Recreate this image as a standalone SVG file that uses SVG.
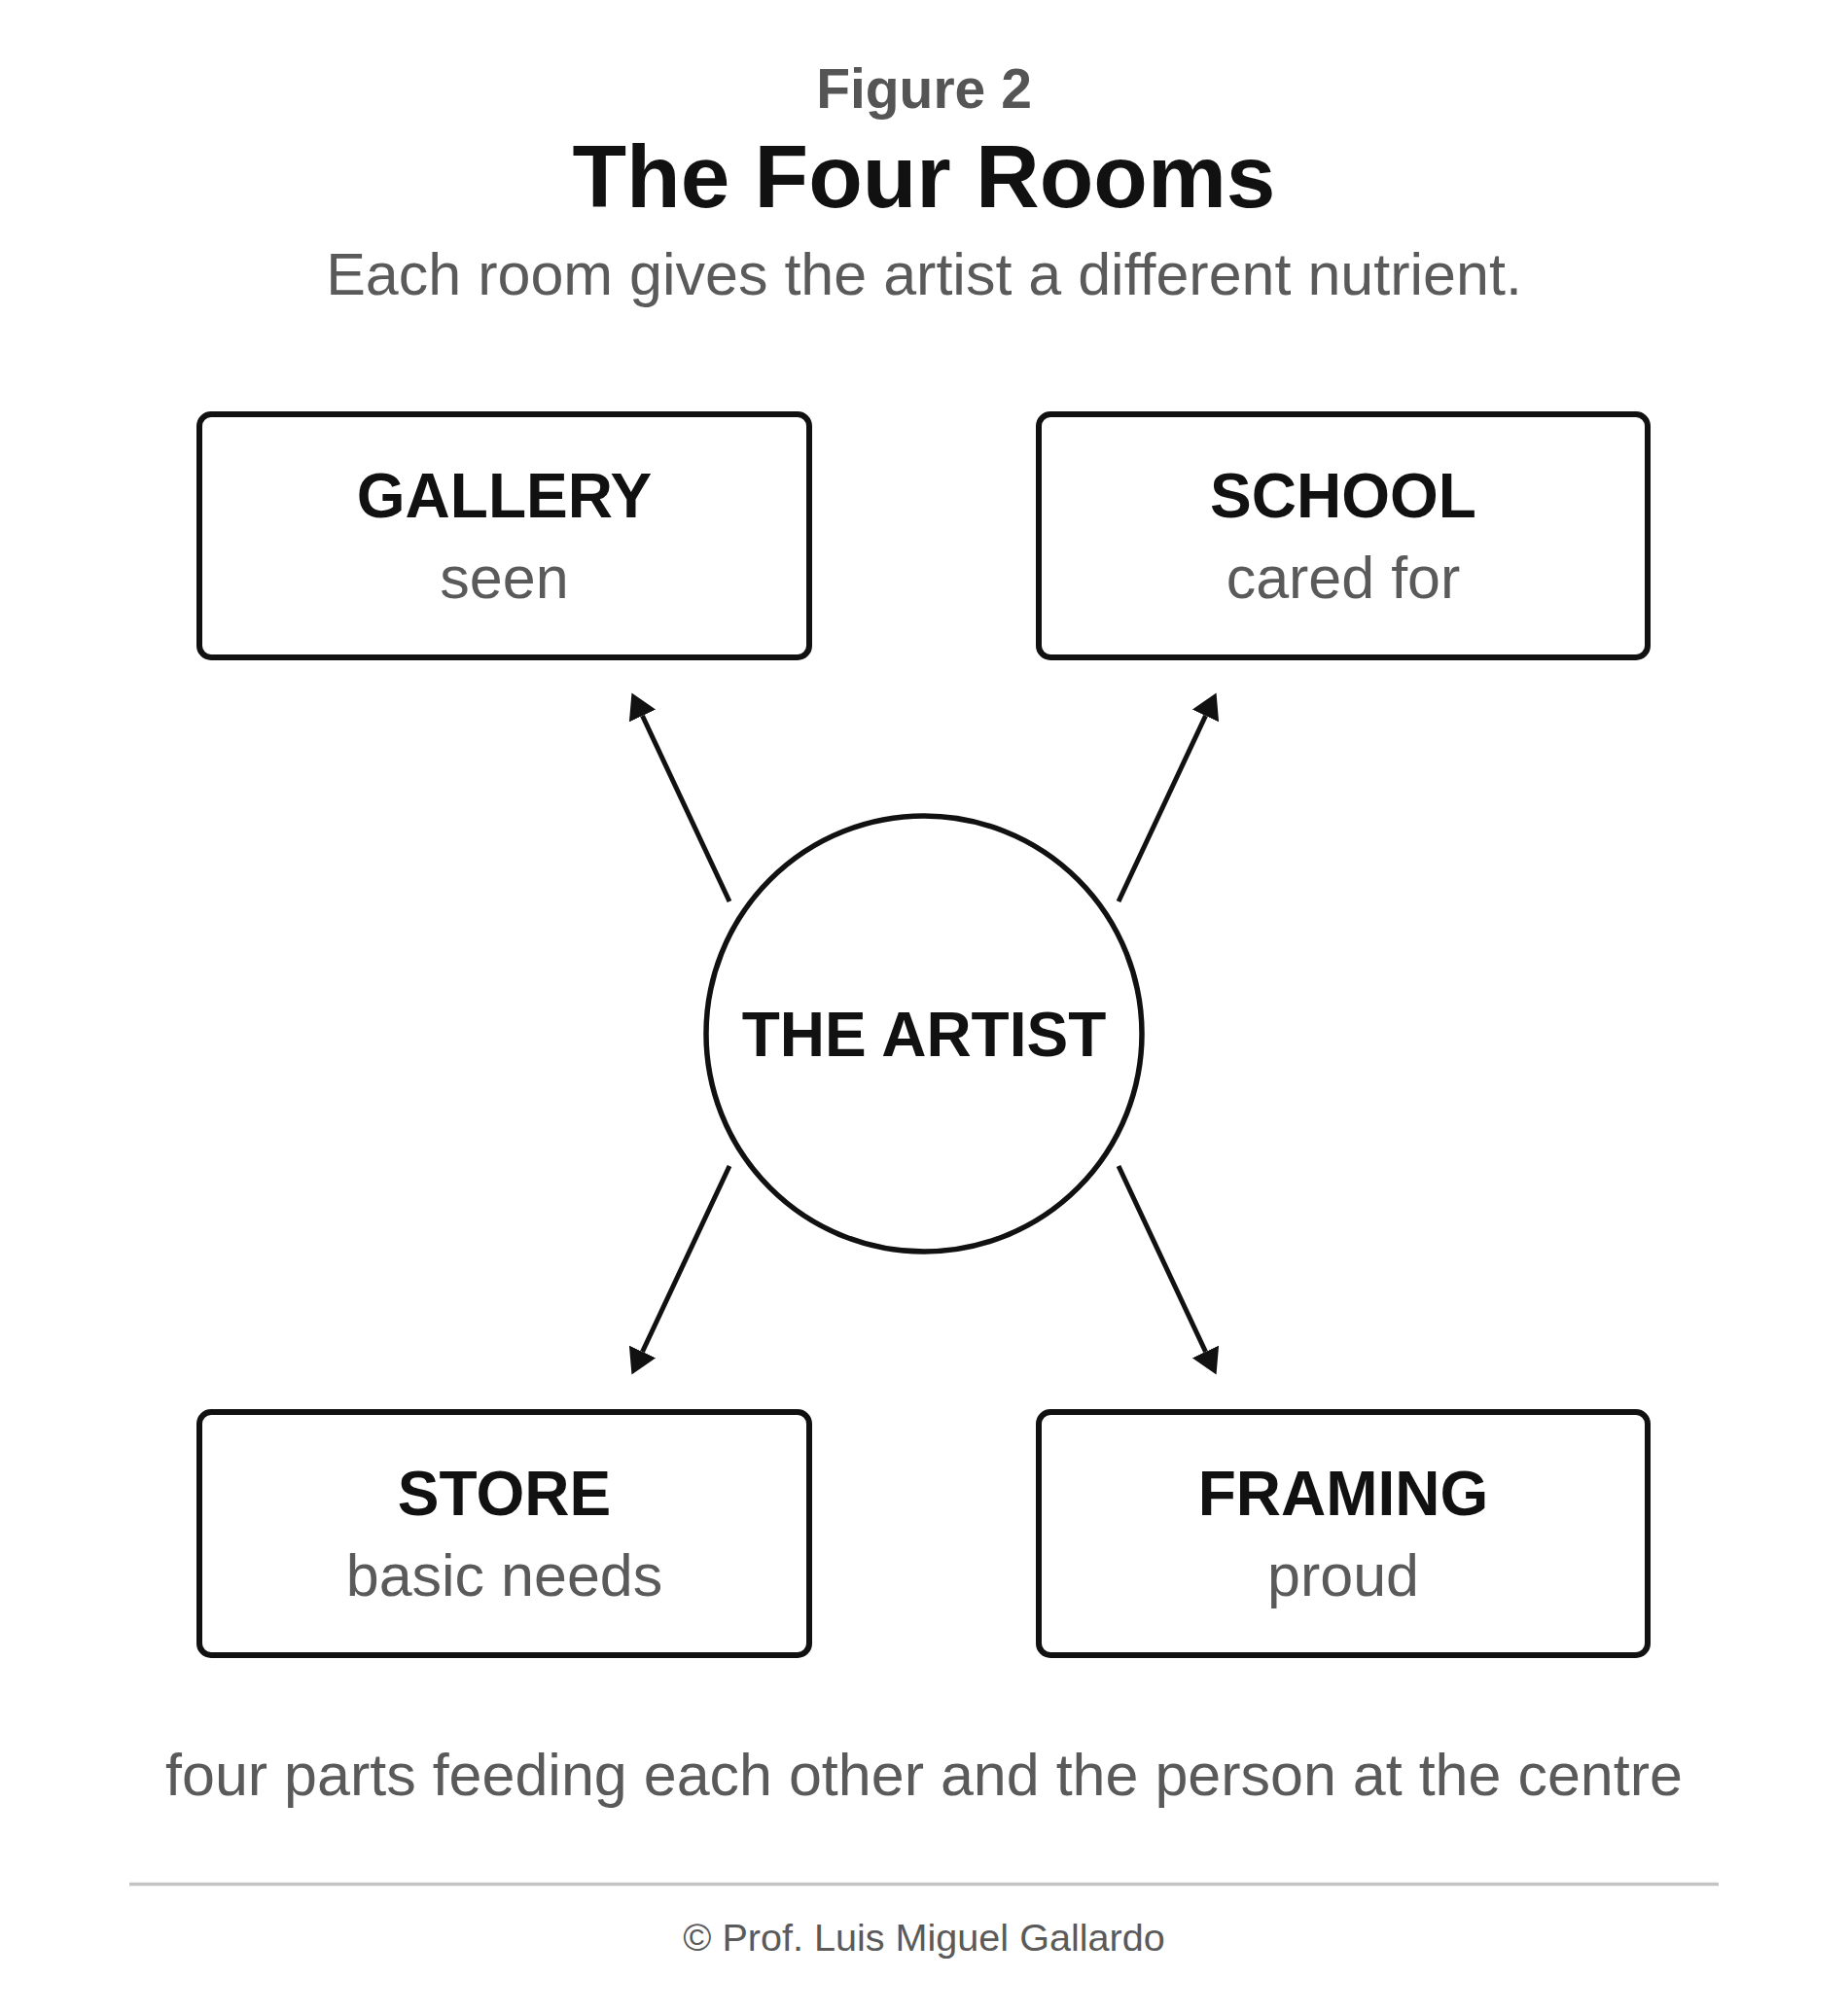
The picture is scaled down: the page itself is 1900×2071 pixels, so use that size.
<svg xmlns="http://www.w3.org/2000/svg" width="1900" height="2071" viewBox="0 0 1900 2071">
  <style>
    .t { font-family: "Liberation Sans", Arial, Helvetica, sans-serif; text-anchor: middle; }
    .bold { font-weight: bold; fill: #111111; }
    .grey { fill: #5a5a5a; }
    .box { fill: #ffffff; stroke: #111111; stroke-width: 6; }
    .conn { stroke: #111111; stroke-width: 5; fill: none; }
  </style>
  <defs>
    <marker id="arrow" viewBox="0 0 26 30" refX="0" refY="15" markerWidth="26" markerHeight="30" markerUnits="userSpaceOnUse" orient="auto">
      <path d="M0,0 L26,15 L0,30 Z" fill="#111111"/>
    </marker>
  </defs>
  <rect x="0" y="0" width="1900" height="2071" fill="#ffffff"/>

  <g id="header">
    <text class="t bold" x="950" y="111" font-size="57" style="fill:#555555">Figure 2</text>
    <text class="t bold" x="950" y="213" font-size="91">The Four Rooms</text>
    <text class="t grey" x="950" y="303" font-size="61">Each room gives the artist a different nutrient.</text>
  </g>

  <g id="connectors">
    <line class="conn" x1="750" y1="927" x2="660.5" y2="736" marker-end="url(#arrow)"/>
    <line class="conn" x1="1150" y1="927" x2="1239.5" y2="736" marker-end="url(#arrow)"/>
    <line class="conn" x1="750" y1="1199" x2="660.5" y2="1390" marker-end="url(#arrow)"/>
    <line class="conn" x1="1150" y1="1199" x2="1239.5" y2="1390" marker-end="url(#arrow)"/>
  </g>

  <g id="gallery">
    <rect class="box" x="205" y="426" width="627" height="250" rx="12"/>
    <text class="t bold" x="518.5" y="532" font-size="64">GALLERY</text>
    <text class="t grey" x="518.5" y="615" font-size="61">seen</text>
  </g>

  <g id="school">
    <rect class="box" x="1068" y="426" width="626" height="250" rx="12"/>
    <text class="t bold" x="1381" y="532" font-size="64">SCHOOL</text>
    <text class="t grey" x="1381" y="615" font-size="61">cared for</text>
  </g>

  <g id="artist">
    <circle cx="950" cy="1063" r="224" fill="#ffffff" stroke="#111111" stroke-width="5.5"/>
    <text class="t bold" x="950" y="1086" font-size="64">THE ARTIST</text>
  </g>

  <g id="store">
    <rect class="box" x="205" y="1452" width="627" height="250" rx="12"/>
    <text class="t bold" x="518.5" y="1558" font-size="64">STORE</text>
    <text class="t grey" x="518.5" y="1641" font-size="61">basic needs</text>
  </g>

  <g id="framing">
    <rect class="box" x="1068" y="1452" width="626" height="250" rx="12"/>
    <text class="t bold" x="1381" y="1558" font-size="64">FRAMING</text>
    <text class="t grey" x="1381" y="1641" font-size="61">proud</text>
  </g>

  <g id="footer">
    <text class="t grey" x="950" y="1846" font-size="61">four parts feeding each other and the person at the centre</text>
    <line x1="133" y1="1937.5" x2="1767" y2="1937.5" stroke="#c4c4c4" stroke-width="3.5"/>
    <text class="t grey" x="950" y="2006" font-size="39.6">© Prof. Luis Miguel Gallardo</text>
  </g>
</svg>
